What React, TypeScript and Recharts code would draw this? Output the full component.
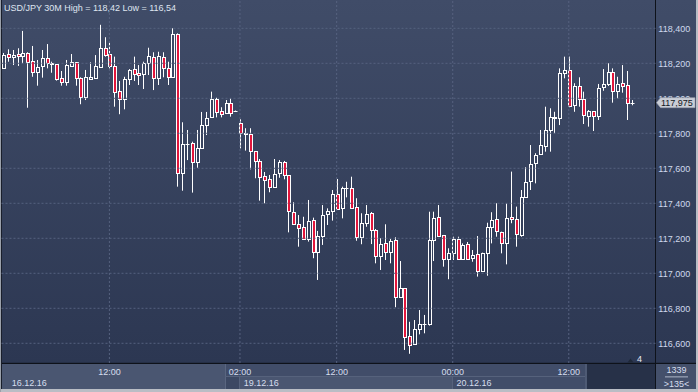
import React from 'react';
import { ComposedChart, Bar, XAxis, YAxis, ReferenceLine } from 'recharts';

const opens = [
  118.175, 118.251, 118.234, 118.253, 118.242, 118.259, 118.211, 118.152, 118.183, 118.230,
  118.203, 118.196, 118.114, 118.095, 118.186, 118.206, 118.114, 118.009, 118.112, 118.118,
  118.181, 118.286, 118.251, 118.183, 118.042, 117.994, 118.109, 118.166, 118.143, 118.137,
  118.200, 118.238, 118.114, 118.234, 118.171, 118.120, 118.366, 117.575, 117.738, 117.743,
  117.638, 117.714, 117.846, 117.891, 117.998, 117.927, 117.914, 117.971, 117.927, 117.857,
  117.800, 117.794, 117.699, 117.642, 117.554, 117.539, 117.491, 117.571, 117.634, 117.560,
  117.352, 117.282, 117.263, 117.194, 117.305, 117.123, 117.213, 117.337, 117.356, 117.451,
  117.371, 117.488, 117.486, 117.377, 117.209, 117.286, 117.343, 117.247, 117.101, 117.171,
  117.123, 117.190, 116.866, 116.914, 116.642, 116.594, 116.680, 116.708, 116.710, 117.190,
  117.320, 117.219, 117.080, 117.114, 117.194, 117.083, 117.166, 117.086, 117.109, 117.015,
  117.114, 117.263, 117.309, 117.238, 117.171, 117.320, 117.309, 117.219, 117.438, 117.527,
  117.629, 117.680, 117.729, 117.819, 117.889, 117.886, 118.143, 118.162, 117.962, 118.070,
  117.994, 117.901, 117.927, 117.901, 118.063, 118.082, 118.149, 118.043, 118.086, 118.076,
  117.975,
];

const highs = [
  118.259, 118.280, 118.276, 118.286, 118.385, 118.263, 118.299, 118.219, 118.276, 118.310,
  118.209, 118.196, 118.156, 118.219, 118.253, 118.206, 118.120, 118.162, 118.206, 118.247,
  118.420, 118.349, 118.318, 118.238, 118.099, 118.123, 118.167, 118.238, 118.190, 118.209,
  118.289, 118.263, 118.266, 118.263, 118.209, 118.400, 118.371, 117.863, 117.819, 117.752,
  117.819, 117.922, 117.922, 118.038, 118.003, 117.949, 117.990, 118.000, 117.930, 117.880,
  117.829, 117.829, 117.699, 117.653, 117.579, 117.562, 117.653, 117.647, 117.642, 117.560,
  117.406, 117.333, 117.323, 117.419, 117.318, 117.242, 117.390, 117.371, 117.476, 117.539,
  117.495, 117.523, 117.552, 117.429, 117.343, 117.390, 117.350, 117.253, 117.200, 117.280,
  117.196, 117.206, 117.070, 116.914, 116.723, 116.733, 116.790, 116.762, 117.352, 117.352,
  117.390, 117.219, 117.143, 117.209, 117.209, 117.171, 117.179, 117.133, 117.213, 117.118,
  117.289, 117.349, 117.400, 117.238, 117.400, 117.581, 117.381, 117.476, 117.606, 117.733,
  117.686, 117.819, 117.952, 117.943, 117.923, 118.171, 118.238, 118.238, 118.086, 118.120,
  118.038, 117.933, 117.927, 118.082, 118.167, 118.200, 118.171, 118.123, 118.190, 118.156,
  117.990,
];

const lows = [
  118.173, 118.209, 118.190, 118.185, 118.200, 117.946, 118.123, 118.072, 118.118, 118.171,
  118.146, 118.101, 118.072, 118.072, 118.181, 118.072, 117.966, 117.990, 118.109, 118.118,
  118.175, 118.238, 118.171, 117.952, 117.909, 117.937, 118.076, 118.099, 118.076, 118.053,
  118.133, 118.047, 118.076, 118.120, 118.076, 118.118, 117.495, 117.472, 117.647, 117.461,
  117.603, 117.714, 117.790, 117.891, 117.891, 117.891, 117.910, 117.895, 117.925, 117.714,
  117.701, 117.594, 117.543, 117.415, 117.400, 117.463, 117.491, 117.546, 117.537, 117.234,
  117.282, 117.152, 117.194, 117.181, 117.086, 116.962, 117.162, 117.276, 117.301, 117.366,
  117.314, 117.434, 117.371, 117.186, 117.166, 117.266, 117.167, 117.057, 117.019, 117.076,
  117.057, 116.806, 116.866, 116.562, 116.540, 116.594, 116.651, 116.657, 116.701, 117.070,
  117.213, 117.038, 116.966, 117.076, 117.076, 117.076, 117.080, 117.066, 116.981, 117.015,
  116.986, 117.171, 117.209, 117.114, 117.051, 117.286, 117.152, 117.209, 117.438, 117.476,
  117.514, 117.676, 117.695, 117.695, 117.800, 117.847, 118.114, 117.949, 117.923, 117.952,
  117.853, 117.838, 117.813, 117.876, 118.043, 118.070, 117.975, 118.000, 118.032, 117.876,
  117.960,
];

const closes = [
  118.247, 118.234, 118.247, 118.242, 118.259, 118.209, 118.152, 118.179, 118.230, 118.200,
  118.194, 118.109, 118.091, 118.190, 118.206, 118.114, 118.006, 118.120, 118.122, 118.183,
  118.286, 118.247, 118.185, 118.038, 117.994, 118.109, 118.160, 118.137, 118.133, 118.202,
  118.242, 118.114, 118.242, 118.171, 118.120, 118.366, 117.571, 117.737, 117.740, 117.638,
  117.714, 117.846, 117.886, 117.994, 117.920, 117.912, 117.971, 117.914, 117.927, 117.800,
  117.797, 117.699, 117.642, 117.552, 117.531, 117.491, 117.566, 117.634, 117.560, 117.356,
  117.282, 117.257, 117.194, 117.299, 117.120, 117.213, 117.333, 117.356, 117.451, 117.366,
  117.486, 117.490, 117.371, 117.206, 117.286, 117.337, 117.247, 117.101, 117.167, 117.120,
  117.185, 116.863, 116.914, 116.638, 116.590, 116.680, 116.709, 116.710, 117.190, 117.314,
  117.213, 117.080, 117.114, 117.194, 117.080, 117.162, 117.080, 117.105, 117.013, 117.118,
  117.263, 117.305, 117.242, 117.171, 117.314, 117.309, 117.223, 117.434, 117.520, 117.623,
  117.676, 117.731, 117.819, 117.891, 117.891, 118.143, 118.162, 117.958, 118.070, 117.994,
  117.905, 117.927, 117.899, 118.057, 118.082, 118.149, 118.042, 118.082, 118.070, 117.971,
  117.975,
];

const visibleBars = 135;
const timeTickIdx = [22, 49, 69, 93, 117];
const timeTickLabels = ['12:00', '02:00', '12:00', '00:00', '12:00'];
const dateTickIdx = [2, 50, 94];
const dateLabels = ['16.12.16', '19.12.16', '20.12.16'];
const priceTicks = [116.6, 116.8, 117.0, 117.2, 117.4, 117.6, 117.8, 118.0, 118.2, 118.4];
const lastPrice = 117.975;
const titleText = 'USD/JPY 30M  High = 118,42 Low = 116,54';
const barCountText = '1339';
const visibleText = '>135<';
const shiftText = '4';

const data = Array.from({ length: visibleBars }, (_, i) =>
  i < opens.length
    ? { i, open: opens[i], high: highs[i], low: lows[i], close: closes[i] }
    : { i }
);

const FONT = '"Liberation Sans", Arial, sans-serif';
const GRID = '#56627f';
const BEAR = '#e2163c';

const fmt = (v: number) => v.toFixed(3).replace('.', ',');

const Candle = (props: any) => {
  const { x, y, width, height, payload } = props;
  if (!payload || payload.open == null) return <g />;
  const { open, close, high, low } = payload;
  const top = Math.min(y, y + height);
  const span = Math.abs(height);
  const pos = (v: number) => (high === low ? top : top + ((high - v) / (high - low)) * span);
  const n = Math.round(x + width / 2);
  const wx = n + 0.5;
  const bull = close >= open;
  const bt = Math.round(pos(Math.max(open, close))) + 0.5;
  const bb = Math.round(pos(Math.min(open, close))) + 0.5;
  const hy = pos(high);
  const ly = pos(low);
  const els: any[] = [];
  if (hy < bt) els.push(<line key="u" x1={wx} x2={wx} y1={hy} y2={bt} stroke="#fff" strokeWidth={1} />);
  if (ly > bb) els.push(<line key="d" x1={wx} x2={wx} y1={bb} y2={ly} stroke="#fff" strokeWidth={1} />);
  if (bb - bt < 1) {
    els.push(<line key="b" x1={n - 1.5} x2={n + 2.5} y1={bt} y2={bt} stroke="#fff" strokeWidth={1} />);
  } else {
    els.push(
      <rect key="b" x={n - 0.5} y={bt} width={3} height={bb - bt}
        fill={bull ? 'none' : BEAR} stroke="#fff" strokeWidth={1} />
    );
  }
  return <g>{els}</g>;
};

const PriceTick = (props: any) => {
  const { y, payload } = props;
  const v = payload.value;
  if (Math.abs(v - lastPrice) < 1e-9) {
    return (
      <g>
        <polygon points={`656.5,${y} 660.5,${y - 5} 695,${y - 5} 695,${y + 5} 660.5,${y + 5}`}
          fill="#c9cdd6" stroke="#9aa0ac" strokeWidth={0.6} />
        <text x={661} y={y + 3.3} fontSize={9} fontFamily={FONT} fill="#111722">{fmt(v)}</text>
      </g>
    );
  }
  return (
    <text x={658.3} y={y + 3.3} fontSize={9} fontFamily={FONT} fill="#cfd9ec">{fmt(v)}</text>
  );
};

const TimeTick = (props: any) => {
  const { x, payload } = props;
  const v = payload.value;
  const ti = timeTickIdx.indexOf(v);
  if (ti >= 0) {
    return (
      <text x={x} y={375} textAnchor="middle" fontSize={9} fontFamily={FONT} fill="#d6deee">
        {timeTickLabels[ti]}
      </text>
    );
  }
  const di = dateTickIdx.indexOf(v);
  if (di >= 0) {
    return (
      <text x={x - 1} y={385.6} textAnchor="start" fontSize={9} fontFamily={FONT} fill="#d6deee">
        {dateLabels[di]}
      </text>
    );
  }
  return <g />;
};

export default function App() {
  return (
    <div style={{ position: 'absolute', left: 0, top: 0, width: 698, height: 392, overflow: 'hidden' }}>
      <svg width={698} height={392} style={{ position: 'absolute', left: 0, top: 0 }}>
        <defs>
          <linearGradient id="bg" x1="0" y1="0" x2="0" y2="1">
            <stop offset="0" stopColor="#404c68" />
            <stop offset="1" stopColor="#2c3752" />
          </linearGradient>
        </defs>
        <rect x={0} y={0} width={698} height={363} fill="url(#bg)" />
        {/* bottom strip */}
        <rect x={0} y={363} width={698} height={29} fill="#44506b" />
        <rect x={0} y={364} width={225} height={25} fill="#4a5671" />
        <rect x={225} y={364} width={362} height={12.5} fill="#414d69" />
        <rect x={225} y={376.5} width={14} height={12.5} fill="#3c4863" />
        <rect x={239} y={376.5} width={213.5} height={12.5} fill="#4a5671" />
        <rect x={452.5} y={376.5} width={134.5} height={12.5} fill="#414d69" />
        <rect x={225} y={364} width={1} height={25} fill="#5a6680" />
        <rect x={225} y={376} width={362} height={1} fill="#56627c" />
        <rect x={239} y={376.5} width={1} height={12.5} fill="#56627c" />
        <rect x={452} y={376.5} width={1} height={12.5} fill="#56627c" />
        <rect x={585} y={364} width={2} height={25} fill="#4e5a74" />
        <rect x={587} y={364} width={68} height={25} fill="#273148" />
        <rect x={656} y={364} width={40} height={25} fill="#44506b" />
        {/* black borders */}
        <rect x={0} y={362.8} width={698} height={1.2} fill="#0e121a" />
        <rect x={655} y={0} width={1} height={389} fill="#0e121a" />
        {/* frame */}
        <rect x={0} y={389} width={698} height={3} fill="#b9bdc5" />
        <rect x={696} y={0} width={2} height={392} fill="#b9bdc5" />
        <rect x={0} y={0} width={1} height={392} fill="#9aa0aa" />
        <rect x={1} y={0} width={1} height={389} fill="#1a1f2c" />
        {/* texts */}
        <text x={4} y={11} fontSize={9} fontFamily={FONT} fill="#dfe5f0">{titleText}</text>
        <text x={676.5} y={373.3} textAnchor="middle" fontSize={9} fontFamily={FONT} fill="#d6deee">{barCountText}</text>
        <rect x={665} y={376.5} width={23} height={0.8} fill="#c8d0e0" />
        <text x={676.5} y={386.5} textAnchor="middle" fontSize={9} fontFamily={FONT} fill="#d6deee">{visibleText}</text>
        <polygon points="627.5,362.5 630.5,358.5 633.5,362.5" fill="#1f2839" />
        <text x={637} y={361.7} fontSize={9} fontFamily={FONT} fill="#e6ebf3">{shiftText}</text>
      </svg>
      <div style={{ position: 'absolute', left: 0, top: 0 }}>
        <ComposedChart width={698} height={392} data={data} barCategoryGap={0}
          margin={{ top: 0, right: 0, bottom: 0, left: 0 }}>
          <XAxis dataKey="i" type="category" ticks={[...timeTickIdx, ...dateTickIdx]} interval={0}
            height={29} axisLine={false} tickLine={false} padding={{ left: 0.6, right: 2.1 }}
            tick={<TimeTick />} />
          <YAxis orientation="right" type="number" domain={[116.4874, 118.5617]} allowDataOverflow
            ticks={[...priceTicks, lastPrice]} interval={0} width={42.5}
            axisLine={false} tickLine={false} tick={<PriceTick />} />
          {priceTicks.map((v) => (
            <ReferenceLine key={'h' + v} y={v} stroke={GRID} strokeDasharray="2 2" />
          ))}
          {timeTickIdx.map((v) => (
            <ReferenceLine key={'v' + v} x={v} stroke={GRID} strokeDasharray="2 2" />
          ))}
          <Bar dataKey={(d: any) => (d.open == null ? null : [d.low, d.high])}
            shape={(p: any) => <Candle {...p} />} isAnimationActive={false} />
        </ComposedChart>
      </div>
    </div>
  );
}
